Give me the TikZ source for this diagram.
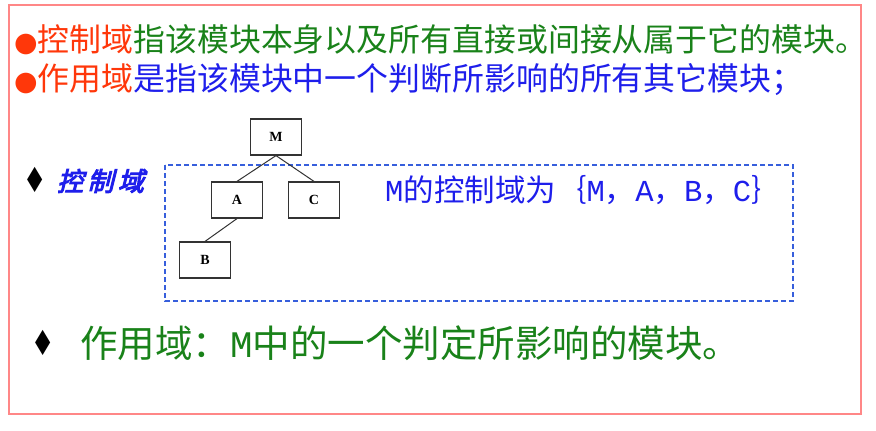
\documentclass[tikz,border=0pt]{standalone}
\usepackage{fontspec}
\setmainfont{Liberation Serif}
\newfontfamily\cjk{Noto Sans CJK SC}
\newfontfamily\cjkslant{Noto Sans CJK SC}[FakeSlant=0.25,FakeBold=4]
\newfontfamily\dejavu{DejaVu Sans}
\newfontfamily\mono{Liberation Mono}
\usetikzlibrary{positioning}
\definecolor{framered}{RGB}{255,135,135}
\definecolor{hlred}{RGB}{255,55,10}
\definecolor{txtgreen}{RGB}{25,130,25}
\definecolor{txtblue}{RGB}{30,30,235}
\definecolor{dashblue}{RGB}{55,95,220}

\begin{document}
\begin{tikzpicture}[x=1pt, y=-1pt,
    mod/.style={draw=black!80, line width=1.2pt, minimum width=51pt, minimum height=36pt, inner sep=0pt, font=\bfseries\fontsize{14}{14}\selectfont},
    txt/.style={inner sep=0pt, anchor=west}]
    \useasboundingbox (0,0) rectangle (876,431);
    \draw[framered, line width=1.5pt] (9,5) rectangle (861,414);

    \node[txt, font=\cjk\fontsize{31.9}{33}\selectfont] (def1) at (14,40)
        {\textcolor{hlred}{{\dejavu\fontsize{27}{27}\selectfont ●}控制域}\textcolor{txtgreen}{指该模块本身以及所有直接或间接从属于它的模块。}};
    \node[txt, font=\cjk\fontsize{31.9}{33}\selectfont] (def2) at (14,80)
        {\textcolor{hlred}{{\dejavu\fontsize{27}{27}\selectfont ●}作用域}\textcolor{txtblue}{是指该模块中一个判断所影响的所有其它模块；}};

    \node[txt, font=\dejavu\fontsize{22}{22}\selectfont] (dia1) at (27,180) {\scalebox{0.9}[1.5]{◆}};
    \node[txt, font=\cjkslant\fontsize{26}{26}\selectfont, text=txtblue] (ctrl) at (57,181) {控\,制\,域};

    \draw[dashblue, dashed, dash pattern=on 5pt off 3pt, line width=1.2pt] (165,165) rectangle (793,301);

    \node[mod] (M) at (276,137) {M};
    \node[mod] (A) at (237,200) {A};
    \node[mod] (C) at (314,200) {C};
    \node[mod] (B) at (205,260) {B};
    \draw[line width=1pt, black!80] (M.south) -- (A.north);
    \draw[line width=1pt, black!80] (M.south) -- (C.north);
    \draw[line width=1pt, black!80] (A.south) -- (B.north);

    \node[txt, font=\cjk\fontsize{30.5}{31}\selectfont, text=txtblue] (set) at (385,190)
        {{\mono M}的控制域为｛{\mono M}，{\mono A}，{\mono B}，{\mono C}｝};

    \node[txt, font=\dejavu\fontsize{22}{22}\selectfont] (dia2) at (35,343) {\scalebox{0.9}[1.5]{◆}};
    \node[txt, font=\cjk\fontsize{37.5}{38}\selectfont, text=txtgreen] (eff) at (80,343)
        {作用域：{\mono M}中的一个判定所影响的模块。};
\end{tikzpicture}
\end{document}
